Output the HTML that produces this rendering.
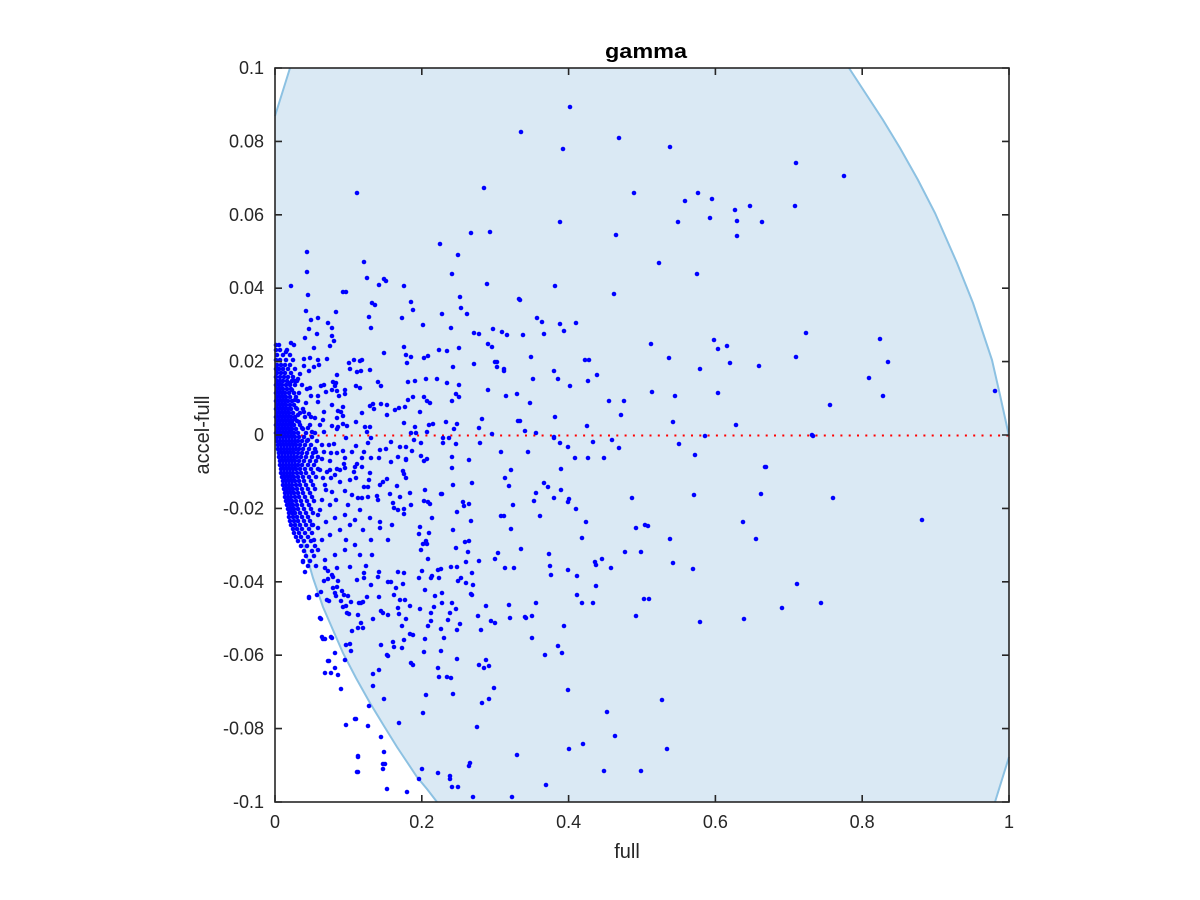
<!DOCTYPE html>
<html><head><meta charset="utf-8"><style>html,body{margin:0;padding:0;background:#fff}svg{display:block}</style></head><body>
<svg width="1200" height="900" viewBox="0 0 1200 900" xmlns="http://www.w3.org/2000/svg" font-family="Liberation Sans, Arial, sans-serif">
<rect x="0" y="0" width="1200" height="900" fill="#fff"/>
<path d="M290,68 L849,68 L866,94 L883,120 L900,148 L918,180 L935,213 L946,238 L957,263 L965,283 L973,303 L982,330 L992,360 L1000,395 L1009,436 L1009,757 L995,802 L437,802 L427,789 L417,777 L407,762 L397,747 L384,726 L370,703 L356,678 L343,653 L333,630 L323,607 L313,578 L303,543 L296,523 L290,505 L285,487 L281,470 L278,455 L276,445 L275,435 L275,116 Z" fill="#dae9f4"/>
<g fill="none" stroke="#8cc1e2" stroke-width="2">
<path d="M275,116 L290,68"/>
<path d="M849,68 L866,94 L883,120 L900,148 L918,180 L935,213 L946,238 L957,263 L965,283 L973,303 L982,330 L992,360 L1000,395 L1009,436"/>
<path d="M1009,757 L995,802"/>
<path d="M437,802 L427,789 L417,777 L407,762 L397,747 L384,726 L370,703 L356,678 L343,653 L333,630 L323,607 L313,578 L303,543 L296,523 L290,505 L285,487 L281,470 L278,455 L276,445 L275,435"/>
</g>
<line x1="276" y1="435.5" x2="1009" y2="435.5" stroke="#ff0000" stroke-width="2" stroke-dasharray="2 6.3"/>
<path fill="none" stroke="#0000ff" stroke-width="4.6" stroke-linecap="round" d="
M570 107h0M521 132h0M619 138h0M563 149h0M670 147h0M634 193h0M698 193h0M685 201h0M712 199h0M750 206h0M735 210h0M560 222h0M678 222h0M710 218h0M737 221h0M762 222h0M737 236h0M616 235h0M659 263h0M697 274h0M555 286h0M614 294h0M520 300h0M537 318h0M542 322h0M560 324h0M576 323h0M564 331h0M523 335h0M544 334h0M651 344h0M714 340h0M727 346h0M718 349h0M531 357h0M669 358h0M585 360h0M589 360h0M730 363h0M759 366h0M700 369h0M554 371h0M533 379h0M558 379h0M588 381h0M597 375h0M570 386h0M652 392h0M718 393h0M675 396h0M609 401h0M624 401h0M530 403h0M621 415h0M555 417h0M520 421h0M673 422h0M736 425h0M587 426h0M525 431h0M536 433h0M705 436h0M554 437h0
M844 176h0M796 163h0M795 206h0M806 333h0M796 357h0M880 339h0M888 362h0M869 378h0M883 396h0M830 405h0M995 391h0M812 435h0
M484 188h0M357 193h0M471 233h0M490 232h0M440 244h0M307 252h0M458 255h0M364 262h0M307 272h0M452 274h0M367 278h0M384 279h0M386 281h0M487 284h0M291 286h0M404 286h0M379 285h0M343 292h0M346 292h0M308 295h0M460 297h0M519 299h0M372 303h0M375 305h0M411 302h0M413 310h0M461 308h0M306 311h0M336 312h0M442 314h0M467 314h0M369 317h0M402 318h0M318 318h0M311 320h0M328 323h0M423 325h0M371 328h0M332 328h0M451 328h0M309 329h0M493 329h0M502 332h0M507 335h0M474 333h0M479 334h0M317 334h0M332 336h0M305 338h0M334 341h0M488 344h0M492 347h0M291 343h0M294 345h0M330 346h0M314 348h0M404 347h0M459 348h0M439 350h0M447 351h0M286 352h0M384 353h0M406 355h0M411 357h0M424 358h0M428 356h0M310 358h0M304 359h0M327 359h0M318 360h0M354 360h0M360 361h0M362 360h0M349 363h0M407 363h0M474 364h0M495 362h0M497 362h0M497 367h0M319 365h0M304 366h0M453 367h0M504 369h0M504 371h0M350 369h0M370 370h0M309 371h0M314 367h0M357 372h0M361 371h0M300 374h0M337 375h0M298 379h0M295 381h0M426 379h0M437 379h0M408 382h0M415 381h0M447 383h0M459 385h0M333 382h0M336 383h0M324 385h0M321 386h0M335 386h0M356 386h0M378 382h0M381 386h0M290 383h0M302 385h0M307 389h0M310 388h0M360 388h0M332 390h0M337 391h0M345 390h0M326 392h0M488 390h0M517 394h0M456 394h0M345 394h0M292 390h0M318 396h0M311 396h0M339 396h0M413 397h0M408 400h0M506 396h0M459 397h0M427 401h0M430 403h0M424 397h0M452 401h0M318 402h0M306 403h0M295 400h0M332 405h0M343 407h0M370 406h0M373 404h0M374 409h0M381 404h0M387 405h0M395 410h0M399 408h0M405 407h0M387 415h0M420 412h0M362 413h0M324 412h0M338 411h0M341 412h0M343 416h0M304 412h0M309 414h0M296 408h0M298 415h0M482 419h0M518 421h0M457 424h0M446 422h0M433 424h0M429 425h0M404 423h0M356 422h0M323 420h0M315 418h0M311 417h0M337 418h0M347 426h0M343 424h0M338 427h0M332 426h0M320 425h0M365 427h0M370 427h0M415 427h0M479 428h0M454 429h0M492 434h0M411 433h0M416 433h0M427 432h0M367 432h0M337 429h0M324 432h0M308 428h0M302 428h0M299 422h0M312 432h0M295 419h0M292 423h0M290 430h0
M276 345h0M279 345h0M276 350h0M280 350h0M287 350h0M277 355h0M283 355h0M290 355h0M276 360h0M280 360h0M286 360h0M293 360h0M277 365h0M281 365h0M285 365h0M290 365h0M276 369h0M279 369h0M283 369h0M288 369h0M295 369h0M277 373h0M281 373h0M285 373h0M291 373h0M276 377h0M280 377h0M284 377h0M288 377h0M293 377h0M277 381h0M280 381h0M283 381h0M287 381h0M292 381h0M297 381h0M276 385h0M279 385h0M282 385h0M286 385h0M290 385h0M295 385h0M277 389h0M280 389h0M283 389h0M287 389h0M291 389h0M276 393h0M279 393h0M282 393h0M285 393h0M289 393h0M294 393h0M299 393h0M277 397h0M280 397h0M283 397h0M286 397h0M290 397h0M296 397h0M276 401h0M279 401h0M282 401h0M285 401h0M288 401h0M292 401h0M298 401h0M277 405h0M280 405h0M283 405h0M286 405h0M290 405h0M294 405h0M276 409h0M279 409h0M282 409h0M285 409h0M288 409h0M291 409h0M297 409h0M303 409h0M277 413h0M280 413h0M283 413h0M286 413h0M289 413h0M293 413h0M300 413h0M276 417h0M279 417h0M282 417h0M285 417h0M288 417h0M291 417h0M295 417h0M305 417h0M277 421h0M280 421h0M283 421h0M286 421h0M289 421h0M292 421h0M297 421h0M276 425h0M279 425h0M282 425h0M285 425h0M288 425h0M291 425h0M294 425h0M300 425h0M310 425h0M277 429h0M280 429h0M283 429h0M286 429h0M289 429h0M292 429h0M296 429h0M303 429h0M276 433h0M279 433h0M282 433h0M285 433h0M288 433h0M291 433h0M294 433h0M298 433h0M306 433h0M315 433h0
M277 437h0M280 437h0M283 437h0M286 437h0M289 437h0M292 437h0M295 437h0M299 437h0M304 437h0M312 437h0M277 441h0M280 441h0M283 441h0M286 441h0M289 441h0M292 441h0M295 441h0M298 441h0M302 441h0M307 441h0M317 441h0M278 445h0M281 445h0M284 445h0M287 445h0M290 445h0M293 445h0M296 445h0M300 445h0M305 445h0M311 445h0M278 449h0M281 449h0M284 449h0M287 449h0M290 449h0M293 449h0M296 449h0M299 449h0M303 449h0M309 449h0M315 449h0M279 453h0M282 453h0M285 453h0M288 453h0M291 453h0M294 453h0M298 453h0M302 453h0M307 453h0M313 453h0M279 457h0M282 457h0M285 457h0M288 457h0M291 457h0M294 457h0M297 457h0M301 457h0M306 457h0M312 457h0M318 457h0M280 461h0M283 461h0M286 461h0M289 461h0M292 461h0M295 461h0M299 461h0M304 461h0M310 461h0M316 461h0M280 465h0M283 465h0M286 465h0M289 465h0M292 465h0M295 465h0M298 465h0M302 465h0M308 465h0M314 465h0M281 469h0M284 469h0M287 469h0M290 469h0M293 469h0M296 469h0M300 469h0M305 469h0M311 469h0M318 469h0M281 473h0M284 473h0M287 473h0M290 473h0M293 473h0M297 473h0M301 473h0M306 473h0M313 473h0M282 477h0M285 477h0M288 477h0M291 477h0M294 477h0M298 477h0M303 477h0M309 477h0M316 477h0M283 481h0M286 481h0M289 481h0M292 481h0M295 481h0M299 481h0M304 481h0M311 481h0M283 485h0M286 485h0M289 485h0M292 485h0M296 485h0M300 485h0M306 485h0M313 485h0M284 489h0M287 489h0M290 489h0M293 489h0M297 489h0M302 489h0M308 489h0M315 489h0M285 493h0M288 493h0M291 493h0M294 493h0M298 493h0M303 493h0M310 493h0M285 497h0M288 497h0M291 497h0M295 497h0M299 497h0M305 497h0M312 497h0M286 501h0M289 501h0M292 501h0M296 501h0M301 501h0M307 501h0M314 501h0M287 505h0M290 505h0M293 505h0M297 505h0M302 505h0M309 505h0M288 509h0M291 509h0M294 509h0M298 509h0M304 509h0M311 509h0M289 513h0M292 513h0M295 513h0M300 513h0M306 513h0M313 513h0M289 517h0M293 517h0M297 517h0M302 517h0M308 517h0M290 521h0M294 521h0M298 521h0M304 521h0M310 521h0M291 525h0M295 525h0M300 525h0M306 525h0M313 525h0M293 529h0M297 529h0M302 529h0M309 529h0M294 533h0M299 533h0M305 533h0M312 533h0M296 537h0M301 537h0M308 537h0M298 541h0M304 541h0M311 541h0M301 546h0M307 546h0M315 546h0M304 551h0M312 551h0M306 556h0M314 556h0M303 561h0M310 561h0M308 566h0M316 566h0
M414 440h0M443 438h0M443 443h0M449 438h0M480 443h0M456 444h0M391 442h0M421 443h0M400 447h0M406 447h0M412 451h0M386 449h0M380 450h0M364 452h0M371 438h0M368 443h0M346 438h0M329 445h0M343 451h0M337 453h0M331 453h0M322 445h0M308 440h0M501 452h0M421 456h0M424 461h0M427 459h0M452 457h0M398 457h0M406 459h0M406 460h0M391 462h0M379 458h0M371 458h0M345 458h0M330 461h0M322 459h0M469 460h0M452 468h0M511 470h0M505 478h0M509 486h0M472 483h0M453 485h0M442 494h0M425 490h0M410 493h0M397 486h0M404 474h0M403 471h0M406 478h0M387 479h0M383 482h0M380 485h0M369 480h0M368 487h0M364 487h0M370 473h0M356 478h0M354 472h0M355 467h0M357 464h0M362 467h0M344 464h0M345 468h0M337 469h0M335 475h0M340 482h0M331 478h0M327 472h0M323 478h0M345 491h0M352 495h0M358 498h0M362 498h0M368 497h0M377 496h0M378 500h0M390 494h0M400 497h0M393 503h0M394 508h0M398 510h0M404 509h0M404 514h0M411 505h0M424 501h0M428 502h0M430 504h0M432 518h0M420 527h0M419 534h0M429 533h0M426 541h0M423 544h0M427 544h0M421 550h0M428 559h0M441 494h0M457 512h0M463 502h0M464 506h0M469 504h0M471 521h0M453 530h0M465 542h0M469 541h0M456 548h0M468 552h0M466 562h0M479 561h0M495 559h0M498 553h0M505 568h0M514 568h0M513 505h0M501 516h0M504 516h0M511 529h0M521 549h0M451 567h0M457 567h0M441 569h0M438 570h0M422 571h0M432 576h0M431 578h0M439 578h0M419 578h0M458 581h0M461 578h0M466 583h0M472 573h0M473 585h0M471 594h0M472 595h0M435 596h0M442 593h0M425 590h0M442 603h0M434 607h0M420 609h0M431 613h0M431 621h0M428 626h0M441 629h0M444 638h0M450 613h0M448 620h0M452 603h0M456 609h0M460 624h0M457 630h0M478 616h0M481 630h0M486 606h0M491 621h0M495 623h0M509 605h0M510 618h0M525 617h0M425 639h0M441 651h0M424 652h0M457 659h0M479 665h0M486 660h0M484 668h0M489 666h0M438 668h0M447 677h0M451 678h0M439 677h0M494 688h0M453 694h0M489 699h0M482 703h0M426 695h0M423 713h0M477 727h0M517 755h0M470 763h0M469 766h0M422 769h0M438 773h0M450 776h0M450 779h0M452 787h0M458 787h0M473 797h0M512 797h0M419 779h0M407 792h0M387 789h0M399 723h0M383 764h0M385 764h0M384 752h0M381 737h0M383 769h0M358 757h0M357 772h0M355 719h0M346 725h0M368 726h0M369 706h0M384 699h0M373 686h0M373 674h0M379 670h0M411 663h0M413 665h0M387 655h0M388 656h0M381 645h0M393 642h0M394 647h0M402 648h0M404 640h0M410 634h0M413 635h0M402 626h0M406 619h0M399 614h0M398 608h0M400 600h0M405 600h0M410 606h0M394 595h0M396 588h0M403 584h0M398 572h0M404 573h0M388 582h0M391 582h0M379 572h0M378 577h0M371 585h0M379 597h0M381 611h0M383 613h0M388 615h0M373 619h0M363 628h0M361 623h0M358 628h0M352 631h0M358 615h0M349 614h0M347 613h0M346 606h0M343 607h0M341 601h0M344 595h0M351 602h0M348 596h0M336 596h0M335 593h0M333 588h0M342 591h0M337 587h0M338 581h0M333 577h0M328 579h0M324 581h0M328 571h0M325 568h0M337 568h0M332 575h0M350 567h0M357 580h0M364 578h0M364 573h0M366 566h0M359 603h0M361 603h0M363 602h0M367 597h0M321 592h0M317 595h0M309 598h0M327 600h0M329 601h0M320 618h0M322 637h0M325 639h0M331 637h0M346 645h0M350 644h0M351 651h0M335 653h0M345 660h0M328 661h0M335 668h0M325 673h0M331 673h0M338 675h0M341 689h0M296 537h0M303 562h0M305 572h0M309 597h0M321 619h0M323 639h0M332 638h0M329 661h0M356 719h0M368 726h0M358 756h0M358 772h0
M322 540h0M330 535h0M340 530h0M350 525h0M318 528h0M326 522h0M335 518h0M345 515h0M355 520h0M363 530h0M371 540h0M380 528h0M388 540h0M355 545h0M345 550h0M335 555h0M325 560h0M318 550h0M330 505h0M320 510h0M322 500h0M332 492h0M325 485h0M330 470h0M320 470h0M340 470h0M350 480h0M360 510h0M370 518h0M380 522h0M392 525h0M346 540h0M360 555h0M372 555h0M314 540h0M312 525h0M318 515h0M326 490h0M336 500h0M348 505h0M352 452h0M356 446h0M362 458h0M316 452h0M324 452h0M334 444h0
M554 438h0M528 452h0M560 443h0M568 447h0M593 442h0M612 440h0M619 448h0M679 444h0M575 458h0M588 458h0M604 458h0M695 455h0M765 467h0M561 469h0M544 483h0M548 487h0M561 490h0M536 493h0M554 498h0M569 499h0M568 502h0M534 501h0M632 498h0M694 495h0M761 494h0M576 509h0M540 516h0M586 522h0M743 522h0M636 528h0M645 525h0M648 526h0M582 538h0M670 539h0M756 539h0M625 552h0M641 552h0M549 554h0M602 559h0M595 562h0M596 565h0M550 566h0M673 563h0M611 568h0M693 569h0M568 570h0M551 575h0M577 576h0M596 586h0M577 595h0M582 603h0M593 603h0M536 603h0M644 599h0M649 599h0M526 618h0M532 616h0M636 616h0M700 622h0M744 619h0M564 626h0M532 638h0M558 646h0M562 653h0M545 655h0M568 690h0M662 700h0M607 712h0M615 736h0M569 749h0M583 744h0M667 749h0M604 771h0M641 771h0M546 785h0
M766 467h0M833 498h0M922 520h0M797 584h0M821 603h0M782 608h0M813 436h0"/>
<g stroke="#262626" stroke-width="1.6" fill="none">
<rect x="275" y="68" width="734" height="734"/>
<path d="M275,802v-7M421.8,802v-7M568.6,802v-7M715.4,802v-7M862.2,802v-7M1009,802v-7M275,68v7M421.8,68v7M568.6,68v7M715.4,68v7M862.2,68v7M1009,68v7"/>
<path d="M275,68h7M275,141.4h7M275,214.8h7M275,288.2h7M275,361.6h7M275,435h7M275,508.4h7M275,581.8h7M275,655.2h7M275,728.6h7M275,802h7M1009,68h-7M1009,141.4h-7M1009,214.8h-7M1009,288.2h-7M1009,361.6h-7M1009,435h-7M1009,508.4h-7M1009,581.8h-7M1009,655.2h-7M1009,728.6h-7M1009,802h-7"/>
</g>
<g fill="#262626" font-size="18" text-anchor="end">
<text x="264" y="74">0.1</text>
<text x="264" y="147.4">0.08</text>
<text x="264" y="220.8">0.06</text>
<text x="264" y="294.2">0.04</text>
<text x="264" y="367.6">0.02</text>
<text x="264" y="441">0</text>
<text x="264" y="514.4">-0.02</text>
<text x="264" y="587.8">-0.04</text>
<text x="264" y="661.2">-0.06</text>
<text x="264" y="734.6">-0.08</text>
<text x="264" y="808">-0.1</text>
</g>
<g fill="#262626" font-size="18" text-anchor="middle">
<text x="275" y="828">0</text>
<text x="421.8" y="828">0.2</text>
<text x="568.6" y="828">0.4</text>
<text x="715.4" y="828">0.6</text>
<text x="862.2" y="828">0.8</text>
<text x="1009" y="828">1</text>
</g>
<text x="627" y="858" fill="#262626" font-size="20" text-anchor="middle">full</text>
<text transform="translate(209,435) rotate(-90)" fill="#262626" font-size="20" text-anchor="middle">accel-full</text>
<text x="646" y="58" fill="#000" font-size="20" font-weight="bold" text-anchor="middle" textLength="82" lengthAdjust="spacingAndGlyphs">gamma</text>
</svg>
</body></html>
